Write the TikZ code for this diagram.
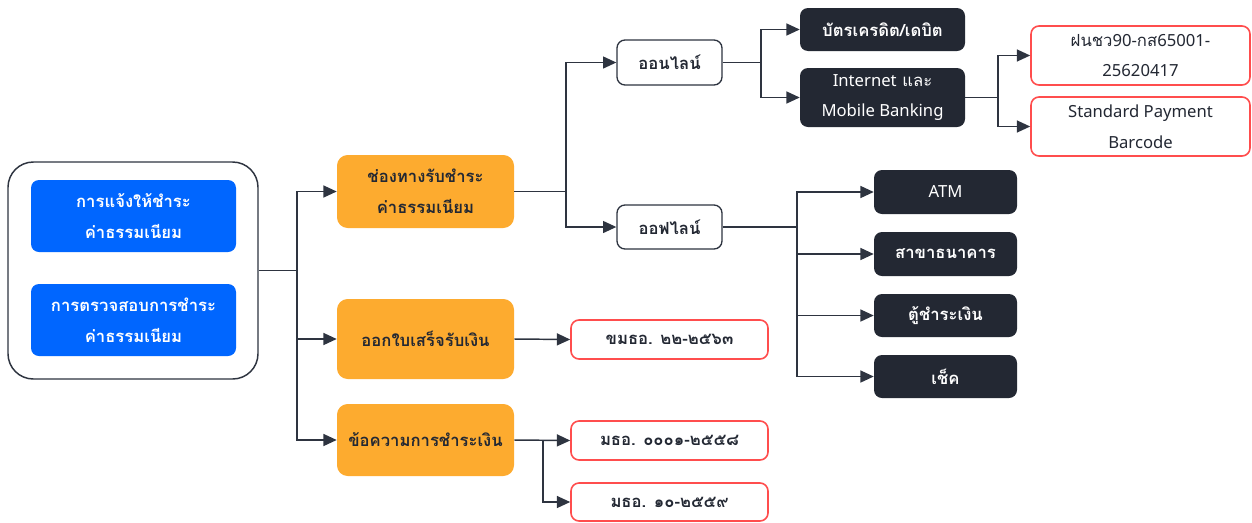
\documentclass[tikz,border=0pt]{standalone}
\usepackage{fontspec}
\setmainfont{Loma}[Script=Thai]
\newfontfamily\latinface{Noto Sans}
\usetikzlibrary{arrows.meta}
\definecolor{ink}{HTML}{232833}
\definecolor{wire}{HTML}{2E3440}
\definecolor{bluefill}{HTML}{0066FF}
\definecolor{orangefill}{HTML}{FDAB2F}
\definecolor{redline}{HTML}{FF4D4D}
\def\pxu{0.75pt}
\begin{document}
\begin{tikzpicture}[x=0.75pt,y=-0.75pt,
  sz/.style 2 args={minimum width=#1*\pxu, minimum height=#2*\pxu},
  base/.style={rounded corners=6pt, align=center, inner sep=0pt,
    font=\fontsize{12.5}{23}\selectfont},
  heavy/.style={font=\fontsize{12.5}{23}\selectfont\bfseries},
  bluebox/.style={base, fill=bluefill, text=white, heavy},
  orangebox/.style={base, fill=orangefill, text=ink, rounded corners=8pt, heavy},
  plainbox/.style={base, draw=wire, line width=1pt, fill=white, text=ink, heavy},
  darkbox/.style={base, fill=ink, text=white},
  redbox/.style={base, draw=redline, line width=1.2pt, fill=white, text=ink},
  wirestyle/.style={draw=wire, line width=1.1pt},
  arr/.style={wirestyle, -{Triangle[length=10pt,width=9pt]}}
]
\useasboundingbox (0,0) rectangle (1252,522);

% group on the left
\node[draw=wire, line width=1.1pt, rounded corners=19pt, fill=white, sz={250}{217}] (grp) at (133,270.5) {};
\node[bluebox, sz={205}{72}] (notify) at (133.5,216) {การแจ้งให้ชำระ\\ค่าธรรมเนียม};
\node[bluebox, sz={205}{72}] (verify) at (133.5,320) {การตรวจสอบการชำระ\\ค่าธรรมเนียม};

% main topics
\node[orangebox, sz={177}{73}] (chan) at (425.5,191.5) {ช่องทางรับชำระ\\ค่าธรรมเนียม};
\node[orangebox, sz={177}{80}] (rcpt) at (425.5,339) {ออกใบเสร็จรับเงิน};
\node[orangebox, sz={177}{72}] (msg) at (425.5,440) {ข้อความการชำระเงิน};

% online / offline
\node[plainbox, sz={105}{45}] (on) at (669.5,62.5) {ออนไลน์};
\node[plainbox, sz={105}{44}] (off) at (669.5,227) {ออฟไลน์};

% online channels
\node[darkbox, sz={165}{43}, heavy] (card) at (882.5,29.5) {บัตรเครดิต/เดบิต};
\node[darkbox, sz={165}{59}] (ibank) at (882.5,97.5) {{\latinface Internet} และ\\{\latinface Mobile Banking}};
\node[redbox, sz={219}{59}] (fn) at (1140.5,55.5) {ฝนชว{\latinface 90-}กส{\latinface 65001-}\\{\latinface 25620417}};
\node[redbox, sz={219}{59}] (spb) at (1140.5,126.5) {{\latinface Standard Payment}\\{\latinface Barcode}};

% offline channels
\node[darkbox, sz={143}{44}] (atm) at (945.5,192) {{\latinface ATM}};
\node[darkbox, sz={143}{44}, heavy] (branch) at (945.5,254) {สาขาธนาคาร};
\node[darkbox, sz={143}{43}, heavy] (kiosk) at (945.5,315.5) {ตู้ชำระเงิน};
\node[darkbox, sz={143}{43}, heavy] (cheque) at (945.5,376.5) {เช็ค};

% standards
\node[redbox, sz={197}{39}, heavy] (std1) at (669.5,339.5) {ขมธอ. ๒๒-๒๕๖๓};
\node[redbox, sz={197}{39}, heavy] (std2) at (669.5,440.5) {มธอ. ๐๐๐๑-๒๕๕๘};
\node[redbox, sz={197}{38}, heavy] (std3) at (669.5,502) {มธอ. ๑๐-๒๕๕๙};

% junction points
\coordinate (jA) at (297,270.5);
\coordinate (jB) at (566,191.5);
\coordinate (jC) at (761,62.5);
\coordinate (jD) at (998,97.5);
\coordinate (jE) at (797,227);
\coordinate (jF) at (543,440);

% connectors
\draw[wirestyle] (grp.east) -- (jA);
\draw[arr] (jA) |- (chan.west);
\draw[arr] (jA) |- (rcpt.west);
\draw[arr] (jA) |- (msg.west);

\draw[wirestyle] (chan.east) -- (jB);
\draw[arr] (jB) |- (on.west);
\draw[arr] (jB) |- (off.west);

\draw[wirestyle] (on.east) -- (jC);
\draw[arr] (jC) |- (card.west);
\draw[arr] (jC) |- (ibank.west);

\draw[wirestyle] (ibank.east) -- (jD);
\draw[arr] (jD) |- (fn.west);
\draw[arr] (jD) |- (spb.west);

\draw[wirestyle] (off.east) -- (jE);
\draw[arr] (jE) |- (atm.west);
\draw[arr] (jE) |- (branch.west);
\draw[arr] (jE) |- (kiosk.west);
\draw[arr] (jE) |- (cheque.west);

\draw[arr] (rcpt.east) -- (std1.west);
\draw[arr] (msg.east) -- (std2.west);
\draw[arr] (jF) |- (std3.west);
\end{tikzpicture}
\end{document}
